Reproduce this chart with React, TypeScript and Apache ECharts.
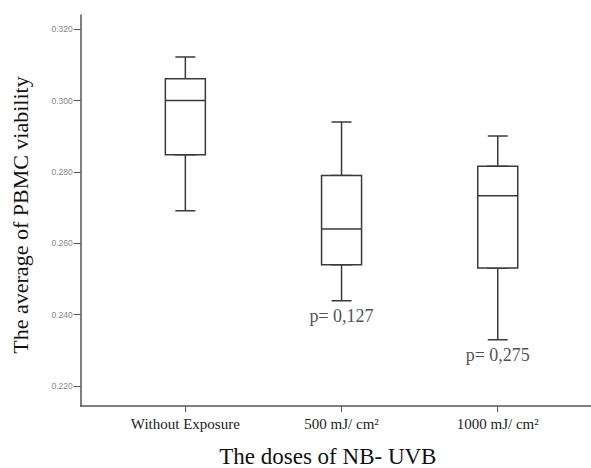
import React, { useEffect, useRef } from "react";
import * as echarts from "echarts";

const categories = ["Without Exposure", "500 mJ/ cm²", "1000 mJ/ cm²"];
const categoryPositions = [1, 2, 3];
const whiskerMin = [0.2691, 0.2439, 0.233];
const q1 = [0.2848, 0.254, 0.2531];
const median = [0.3, 0.264, 0.2733];
const q3 = [0.3061, 0.279, 0.2816];
const whiskerMax = [0.3122, 0.294, 0.2901];
const pValueLabels = ["", "p= 0,127", "p= 0,275"];
const yTicks = [0.22, 0.24, 0.26, 0.28, 0.3, 0.32];

const serif = "'Times New Roman', 'Liberation Serif', serif";
const sans = "Arial, 'Liberation Sans', sans-serif";
const lineColor = "#3a3a3a";
const axisColor = "#555555";

export default function App() {
  const ref = useRef<HTMLDivElement>(null);
  useEffect(() => {
    if (!ref.current) return;
    const chart = echarts.init(ref.current, null, { renderer: "svg" });

    const whiskerData = categoryPositions.map((x, i) => [
      x, whiskerMin[i], q1[i], median[i], q3[i], whiskerMax[i],
    ]);
    const boxData = categoryPositions.map((x, i) => [
      x, q1[i], q1[i], median[i], q3[i], q3[i],
    ]);
    const pData = categoryPositions
      .map((x, i) => ({ value: [x, whiskerMin[i]], label: pValueLabels[i] }))
      .filter((d) => d.label !== "");

    const xRange = { min: 0.33, max: 3.597 };

    chart.setOption({
      animation: false,
      grid: {
        left: 80.7,
        right: 0,
        top: 15,
        bottom: 62,
        containLabel: false,
        outerBoundsMode: "none",
      },
      xAxis: [
        {
          type: "value",
          ...xRange,
          position: "bottom",
          splitLine: { show: false },
          axisLine: { show: true, lineStyle: { color: axisColor, width: 1.5 } },
          axisTick: {
            show: true,
            length: 6,
            customValues: categoryPositions,
            lineStyle: { color: axisColor, width: 1 },
          },
          axisLabel: {
            customValues: categoryPositions,
            formatter: (v: number) => {
              const idx = categoryPositions.indexOf(Math.round(v));
              return idx >= 0 ? categories[idx] : "";
            },
            fontFamily: serif,
            fontSize: 15,
            color: "#222",
            margin: 10,
          },
          name: "The doses of NB- UVB",
          nameLocation: "middle",
          nameGap: 39,
          nameTextStyle: {
            fontFamily: serif,
            fontSize: 23,
            color: "#111",
            padding: [0, 16, 0, 0],
          },
        },
        { type: "value", ...xRange, show: false },
      ],
      yAxis: {
        type: "value",
        min: 0.2144,
        max: 0.324,
        splitLine: { show: false },
        axisLine: { show: true, lineStyle: { color: axisColor, width: 1.5 } },
        axisTick: {
          show: true,
          length: 7,
          customValues: yTicks,
          lineStyle: { color: axisColor, width: 1 },
        },
        axisLabel: {
          customValues: yTicks,
          formatter: (v: number) => v.toFixed(3),
          fontFamily: sans,
          fontSize: 8.5,
          color: "#888",
          margin: 8,
        },
        name: "The average of PBMC viability",
        nameLocation: "middle",
        nameGap: 49,
        nameTextStyle: {
          fontFamily: serif,
          fontSize: 22,
          color: "#111",
          padding: [0, 9, 0, 0],
        },
      },
      series: [
        {
          type: "boxplot",
          xAxisIndex: 0,
          data: whiskerData,
          boxWidth: [20, 20],
          silent: true,
          z: 2,
          itemStyle: { color: "#fff", borderColor: lineColor, borderWidth: 1.5 },
        },
        {
          type: "boxplot",
          xAxisIndex: 1,
          data: boxData,
          boxWidth: [40, 40],
          silent: true,
          z: 3,
          itemStyle: { color: "#fff", borderColor: lineColor, borderWidth: 1.5 },
        },
        {
          type: "scatter",
          xAxisIndex: 0,
          symbolSize: 0,
          silent: true,
          data: pData,
          label: {
            show: true,
            position: "bottom",
            distance: 6,
            formatter: (p: any) => p.data.label,
            fontFamily: serif,
            fontSize: 18,
            color: "#222",
          },
        },
      ],
    });
    return () => chart.dispose();
  }, []);
  return (
    <div
      ref={ref}
      style={{ position: "absolute", left: 0, top: 0, width: 591, height: 468 }}
    />
  );
}
